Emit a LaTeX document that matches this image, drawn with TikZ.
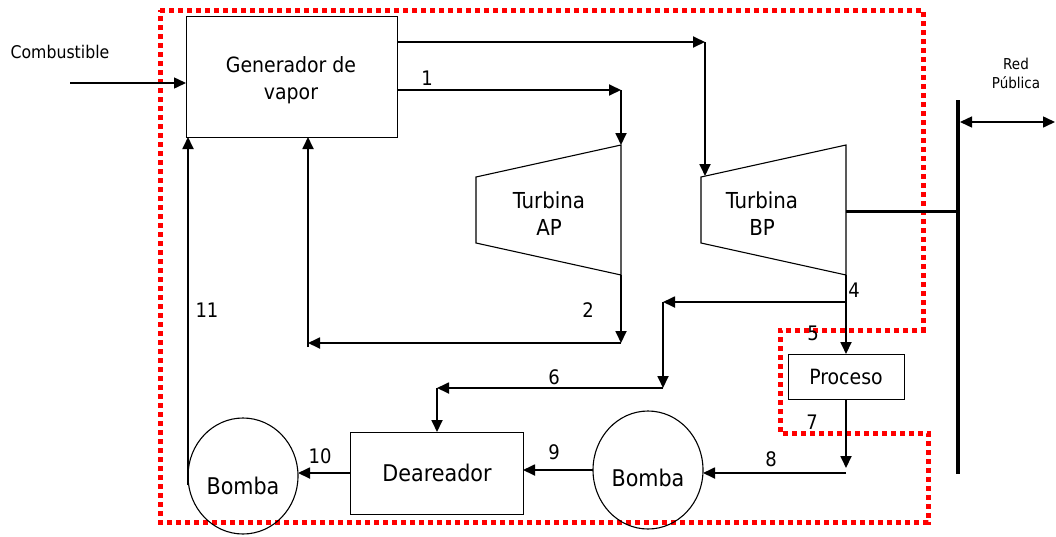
\documentclass[tikz,border=0pt]{standalone}
\usepackage{fontspec}
\setmainfont{DejaVu Sans Condensed}
\usetikzlibrary{arrows.meta,shapes.geometric}
\begin{document}
\begin{tikzpicture}[x=1pt,y=-1pt,
  box/.style={draw, line width=1pt, inner sep=0pt, outer sep=0pt},
  pump/.style={draw, ellipse, line width=1.1pt, inner sep=0pt, outer sep=0pt, minimum width=110pt, minimum height=116pt},
  arr/.style={line width=1.8pt, -{Triangle[length=12pt,width=11pt]}},
  txt/.style={font=\fontsize{21}{26.5}\selectfont, align=center, inner sep=0pt},
  bigtxt/.style={font=\fontsize{23}{27}\selectfont, align=center, inner sep=0pt},
  num/.style={font=\fontsize{20}{22}\selectfont, inner sep=0pt},
  small/.style={font=\fontsize{17.5}{19}\selectfont, align=center, inner sep=0pt},
  reddot/.style={draw=red, line width=5pt, dash pattern=on 5pt off 4pt}]
\useasboundingbox (0,0) rectangle (1056,536);
% boundary
\draw[reddot] (160,10) -- (923,10) -- (923,330) -- (780,330) -- (780,433) -- (928,433) -- (928,522) -- (160,522) -- cycle;
% components
\node[box, minimum width=211pt, minimum height=121pt] (gen) at (291.5,76.5) {};
\node[txt] at (291,80) {Generador de\\vapor};
\draw[line width=1.1pt] (476,177) -- (621,145) -- (621,275) -- (476,243) -- cycle;
\node[txt, font=\fontsize{22}{27}\selectfont] (aptxt) at (549,214) {Turbina\\AP};
\draw[line width=1.1pt] (701,177) -- (846,145) -- (846,275) -- (701,243) -- cycle;
\node[txt, font=\fontsize{22}{27}\selectfont] (bptxt) at (762,214) {Turbina\\BP};
\coordinate (apin) at (621,145);
\coordinate (apout) at (621,275);
\coordinate (bpin) at (705,176);
\coordinate (bpout) at (846,275);
\coordinate (shaft) at (846,211);
\node[box, minimum width=116pt, minimum height=45pt] (proc) at (846,376.5) {};
\node[txt] at (846,377) {Proceso};
\node[box, minimum width=173pt, minimum height=82pt] (dea) at (436.5,473) {};
\node[bigtxt] at (437,473) {Deareador};
\node[pump] (b1) at (243,476) {};
\node[bigtxt] at (243,486) {Bomba};
\node[pump, minimum height=118pt] (b2) at (648,470) {};
\node[bigtxt] at (648,478) {Bomba};
% grid
\coordinate (gtop) at (958,100);
\coordinate (gbot) at (958,474);
\draw[line width=3.5pt] (gtop) -- (gbot);
\draw[line width=3pt] (shaft) -- (shaft -| gtop);
\coordinate (grid) at (960,122);
\coordinate (gridr) at (1055,122);
\draw[line width=1.5pt, {Triangle[length=12pt,width=11pt]}-{Triangle[length=12pt,width=11pt]}] (grid) -- (gridr);
\node[small, font=\fontsize{15}{19}\selectfont] at (1016,73) {Red\\Pública};
% fuel
\node[small] at (60,52) {Combustible};
\coordinate (fuel) at (70,83);
\draw[line width=1.5pt, -{Triangle[length=12pt,width=11pt]}] (fuel) -- (fuel -| gen.west);
% steam lines
\coordinate (c1) at (705,42);
\draw[arr] (gen.east |- c1) -- (c1);
\draw[arr] (c1) -- (bpin);
\coordinate (c2) at (621,90);
\draw[arr] (gen.east |- c2) -- (c2);
\draw[arr] (c2) -- (apin);
\coordinate (c3) at (621,343);
\coordinate (c4) at (308,343);
\coordinate (c4b) at (308,347);
\draw[arr] (apout) -- (c3);
\draw[arr] (c3) -- (c4);
\draw[arr] (c4b) -- (c4b |- gen.south);
% BP exhaust
\coordinate (c5) at (846,302);
\coordinate (c6) at (663,302);
\coordinate (c7) at (663,388);
\coordinate (c8) at (437,388);
\draw[arr] (bpout) -- (proc.north);
\draw[arr] (c5) -- (c6);
\draw[arr] (c6) -- (c7);
\draw[arr] (c7) -- (c8);
\draw[arr] (c8) -- (c8 |- dea.north);
% condensate
\coordinate (c9) at (846,468);
\coordinate (c10) at (846,473);
\draw[arr] (proc.south) -- (c9);
\draw[arr] (c10) -- (c10 -| b2.east);
\draw[arr] (b2.west) -- (b2.west -| dea.east);
\draw[arr] (dea.west) -- (dea.west -| b1.east);
\coordinate (c11) at (188,485);
\draw[arr] (c11) -- (c11 |- gen.south);
% labels
\node[num] at (427,78) {1};
\node[num] at (588,310) {2};
\node[num] at (854,290) {4};
\node[num] at (813,333) {5};
\node[num] at (554,377) {6};
\node[num] at (812,422) {7};
\node[num] at (771,459) {8};
\node[num] at (554,452) {9};
\node[num] at (320,456) {10};
\node[num] at (207,310) {11};
\end{tikzpicture}
\end{document}
